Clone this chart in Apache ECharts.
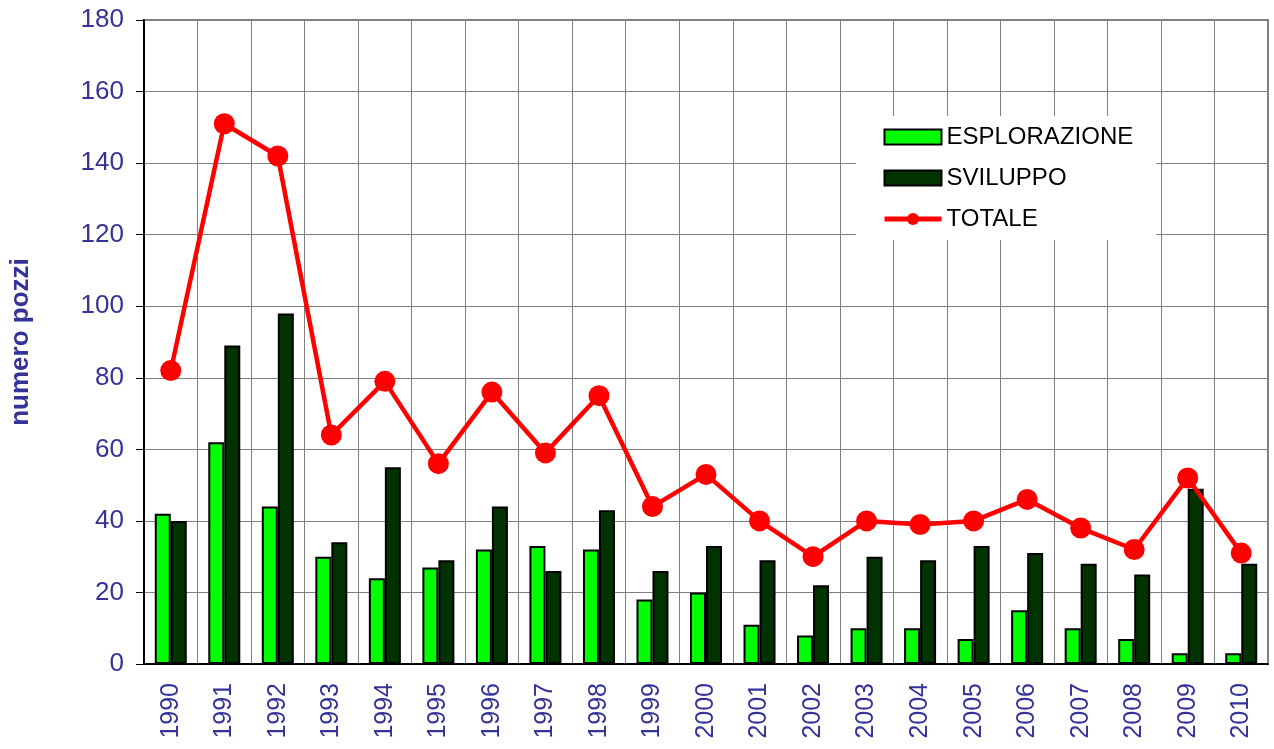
<!DOCTYPE html>
<html><head><meta charset="utf-8">
<script src="https://cdn.jsdelivr.net/npm/echarts@6/dist/echarts.min.js"></script>
<style>html,body{margin:0;padding:0;background:#fff}#c{width:1274px;height:749px}</style>
</head><body><div id="c"></div>
<script>
const years = ['1990','1991','1992','1993','1994','1995','1996','1997','1998','1999','2000','2001','2002','2003','2004','2005','2006','2007','2008','2009','2010'];
const esplorazione = [42,62,44,30,24,27,32,33,32,18,20,11,8,10,10,7,15,10,7,3,3];
const sviluppo = [40,89,98,34,55,29,44,26,43,26,33,29,22,30,29,33,31,28,25,49,28];
const totale = [82,151,142,64,79,56,76,59,75,44,53,40,30,40,39,40,46,38,32,52,31];
const yTicks = [0,20,40,60,80,100,120,140,160,180];

const chart = echarts.init(document.getElementById('c'), null, {renderer:'canvas'});
const labelColor = '#333399';
const font = 'Liberation Sans, Arial, sans-serif';
chart.setOption({
  animation:false,
  backgroundColor:'#fff',
  textStyle:{fontFamily:font},
  grid:{left:143, right:6, top:20, bottom:85, show:true, borderColor:'#808080', borderWidth:2, backgroundColor:'transparent'},
  legend:{
    orient:'vertical', left:856, top:116, itemGap:17, itemWidth:57, itemHeight:15,
    backgroundColor:'#fff', padding:[9,23,9,26],
    textStyle:{fontSize:24, color:'#000', fontFamily:font},
    data:[{name:'ESPLORAZIONE', icon:'rect'},{name:'SVILUPPO', icon:'rect'},{name:'TOTALE', lineStyle:{width:5}}]
  },
  xAxis:{
    type:'category', data:years,
    axisLine:{lineStyle:{color:'#000', width:2}},
    axisTick:{show:false},
    splitLine:{show:true, interval:0, lineStyle:{color:'#808080', width:1}},
    axisLabel:{rotate:90, interval:0, fontSize:25, color:labelColor, margin:19, fontFamily:font}
  },
  yAxis:{
    type:'value', min:yTicks[0], max:yTicks[yTicks.length-1], interval:20,
    name:'numero pozzi', nameLocation:'middle', nameGap:110, nameRotate:90,
    nameTextStyle:{fontSize:26, fontWeight:'bold', color:labelColor, fontFamily:font},
    axisLine:{show:true, lineStyle:{color:'#000', width:2}},
    axisTick:{show:true, length:8, lineStyle:{color:'#000'}},
    splitLine:{show:true, lineStyle:{color:'#808080', width:1}},
    axisLabel:{fontSize:26, color:labelColor, margin:20, fontFamily:font}
  },
  series:[
    {name:'ESPLORAZIONE', type:'bar', data:esplorazione, barWidth:16, barGap:'0%',
      itemStyle:{color:'#00ff00', borderColor:'#000', borderWidth:2}},
    {name:'SVILUPPO', type:'bar', data:sviluppo, barWidth:16, barGap:'0%',
      itemStyle:{color:'#003300', borderColor:'#000', borderWidth:2}},
    {name:'TOTALE', type:'line', data:totale, symbol:'circle', symbolSize:21,
      lineStyle:{color:'#ff0000', width:4.5}, itemStyle:{color:'#ff0000'}, z:5}
  ]
});
</script></body></html>
